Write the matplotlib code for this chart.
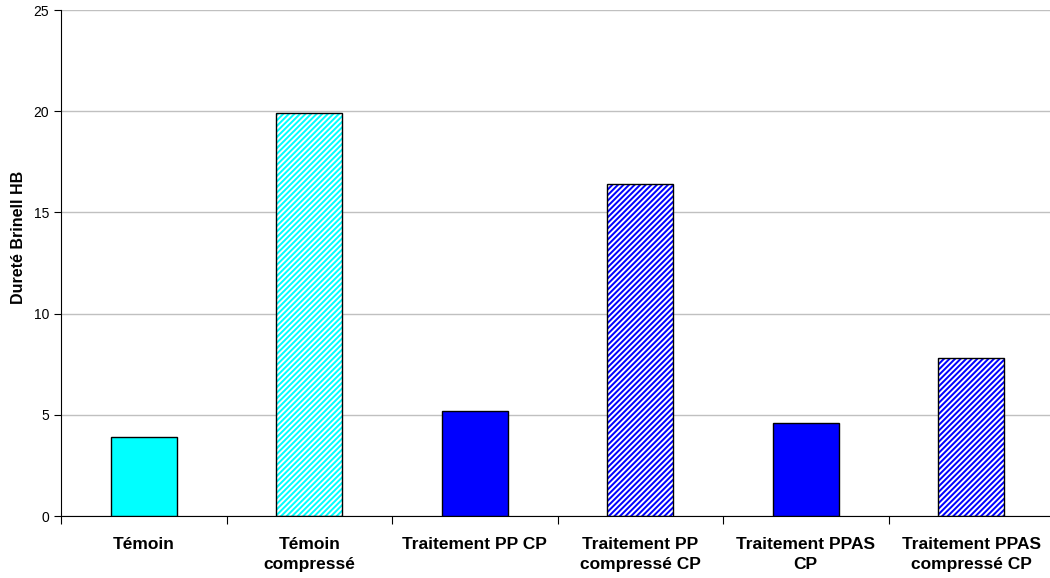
import matplotlib.pyplot as plt
import numpy as np

categories = ["Témoin", "Témoin\ncompressé", "Traitement PP CP",
              "Traitement PP\ncompressé CP", "Traitement PPAS\nCP",
              "Traitement PPAS\ncompressé CP"]
values = [3.9, 19.9, 5.2, 16.4, 4.6, 7.8]
colors = ["#00FFFF", "#00FFFF", "#0000FF", "#0000FF", "#0000FF", "#0000FF"]
hatched = [False, True, False, True, False, True]

plt.rcParams["font.family"] = ["Liberation Sans", "DejaVu Sans"]
plt.rcParams["hatch.linewidth"] = 1.4

fig = plt.figure(figsize=(10.5, 5.78), dpi=100)
ax = fig.add_axes([61 / 1050, 1 - 516 / 578, 993 / 1050, 506 / 578])

x = np.arange(len(categories))
w = 0.4
for xi, v, c, h in zip(x, values, colors, hatched):
    if h:
        ax.bar(xi, v, w, color=c, edgecolor="white", hatch="//////", linewidth=0, zorder=2)
        ax.bar(xi, v, w, fill=False, edgecolor="black", linewidth=1, zorder=3)
    else:
        ax.bar(xi, v, w, color=c, edgecolor="black", linewidth=1, zorder=3)

ax.set_xlim(-0.5, len(categories) - 0.5)
ax.set_ylim(0, 25)
ax.set_yticks([0, 5, 10, 15, 20, 25])
ax.yaxis.grid(True, color="#C0C0C0", linewidth=1)
ax.set_axisbelow(True)

ax.set_xticks(np.arange(len(categories) + 1) - 0.5)
ax.set_xticklabels([])
ax.set_xticks(x, minor=True)
ax.set_xticklabels(categories, minor=True, fontsize=12.5, fontweight="bold",
                   linespacing=1.45)
ax.tick_params(axis="x", which="minor", length=0, pad=15)
ax.tick_params(axis="x", which="major", length=6, direction="out")
ax.tick_params(axis="y", length=5, labelsize=10)

for s in ["top", "right"]:
    ax.spines[s].set_visible(False)

ax.set_ylabel("Dureté Brinell HB", fontsize=11.5, fontweight="bold", va="center")
ax.yaxis.set_label_coords((18.5 - 61) / 993, 0.55)

plt.savefig("out.png", dpi=100)
